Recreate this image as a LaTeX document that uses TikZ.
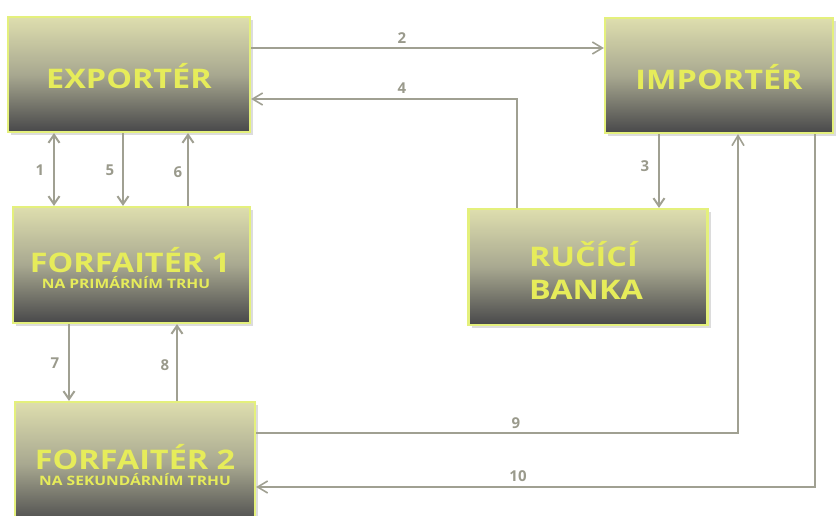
\documentclass[tikz,border=0pt]{standalone}
\usepackage{fontspec}
\setmainfont{Open Sans}
\newfontfamily\boxfont[FakeStretch=1.2]{Open Sans}
\usetikzlibrary{arrows.meta,shadows}
\definecolor{boxtop}{HTML}{DEDEAE}
\definecolor{boxmid}{HTML}{A8A890}
\definecolor{boxbot}{HTML}{48484A}
\definecolor{boxrim}{HTML}{E4F07C}
\definecolor{txtyel}{HTML}{E6EC5A}
\definecolor{linegray}{HTML}{A0A092}
\definecolor{numgray}{HTML}{9A9A8C}
\tikzset{
  box/.style={rectangle, draw=boxrim, line width=2.2pt,
    top color=boxtop, bottom color=boxbot, middle color=boxmid,
    drop shadow={shadow xshift=3pt, shadow yshift=-3pt, fill=black!30, opacity=0.45},
    text=txtyel, align=center, inner sep=0pt},
  ttl/.style={text=txtyel, align=center, inner sep=0pt, font=\boxfont\bfseries\fontsize{27}{33}\selectfont},
  sub/.style={text=txtyel, inner sep=0pt, font=\boxfont\bfseries\fontsize{13}{14}\selectfont},
  conn/.style={draw=linegray, line width=2.4pt, -{Straight Barb[length=8pt,width=11pt,line width=2pt]}},
  hconn/.style={draw=linegray, line width=2pt, -{Straight Barb[length=10pt,width=12pt,line width=1.6pt]}},
  num/.style={text=numgray, font=\bfseries\fontsize{15}{15}\selectfont, inner sep=1pt},
}
\begin{document}
\begin{tikzpicture}[x=1pt,y=-1pt]
\useasboundingbox (0,0) rectangle (836,516);
\node[box, minimum width=242pt, minimum height=115pt] (exp) at (129,74.5) {};
\node[box, minimum width=228pt, minimum height=115pt] (imp) at (719,75.5) {};
\node[box, minimum width=237pt, minimum height=116pt] (f1) at (131.5,265) {};
\node[box, minimum width=239pt, minimum height=116pt] (bank) at (588,267) {};
\node[box, minimum width=240pt, minimum height=124pt] (f2) at (135,464) {};

\node[ttl] (texp) at (exp.center) [yshift=-2pt] {EXPORTÉR};
\node[ttl] (timp) at (imp.center) [yshift=-2pt] {IMPORTÉR};
\node[ttl, anchor=base] (tf1) at (130,272) {FORFAITÉR 1};
\node[sub, anchor=base] (sf1) at (126,288) {NA PRIMÁRNÍM TRHU};
\node[ttl, align=left, anchor=north west] (tbank) at (529,241) {RUČÍCÍ\\BANKA};
\node[ttl, anchor=base] (tf2) at (135,469) {FORFAITÉR 2};
\node[sub, anchor=base] (sf2) at (135,485) {NA SEKUNDÁRNÍM TRHU};

% 1,5,6
\draw[conn, {Straight Barb[length=8pt,width=11pt,line width=2pt]}-{Straight Barb[length=8pt,width=11pt,line width=2pt]}]
  (exp.south -| 54,0) -- (f1.north -| 54,0);
\draw[conn] (exp.south -| 123,0) -- (f1.north -| 123,0);
\draw[conn] (f1.north -| 188,0) -- (exp.south -| 188,0);
\node[num] (n1) at (40,170) {1};
\node[num] (n5) at (110,170) {5};
\node[num] (n6) at (178,172) {6};
% 7,8
\draw[conn] (f1.south -| 69,0) -- (f2.north -| 69,0);
\draw[conn] (f2.north -| 177,0) -- (f1.south -| 177,0);
\node[num] (n7) at (55,363) {7};
\node[num] (n8) at (165,365) {8};
% 2
\draw[hconn] (exp.east |- 0,48) -- (imp.west |- 0,48);
\node[num] (n2) at (402,38) {2};
% 4
\coordinate (c4) at (517,99);
\draw[hconn] (bank.north -| c4) -- (c4) -- (exp.east |- c4);
\node[num] (n4) at (402,88) {4};
% 3
\draw[conn] (imp.south -| 659,0) -- (bank.north -| 659,0);
\node[num] (n3) at (645,166) {3};
% 9
\coordinate (c9) at (738,433);
\draw[hconn] (f2.east |- c9) -- (c9) -- (imp.south -| c9);
\node[num] (n9) at (516,423) {9};
% 10
\coordinate (c10) at (815,487);
\draw[hconn] (imp.south -| c10) -- (c10) -- (f2.east |- c10);
\node[num] (n10) at (518,476) {10};
\end{tikzpicture}
\end{document}
